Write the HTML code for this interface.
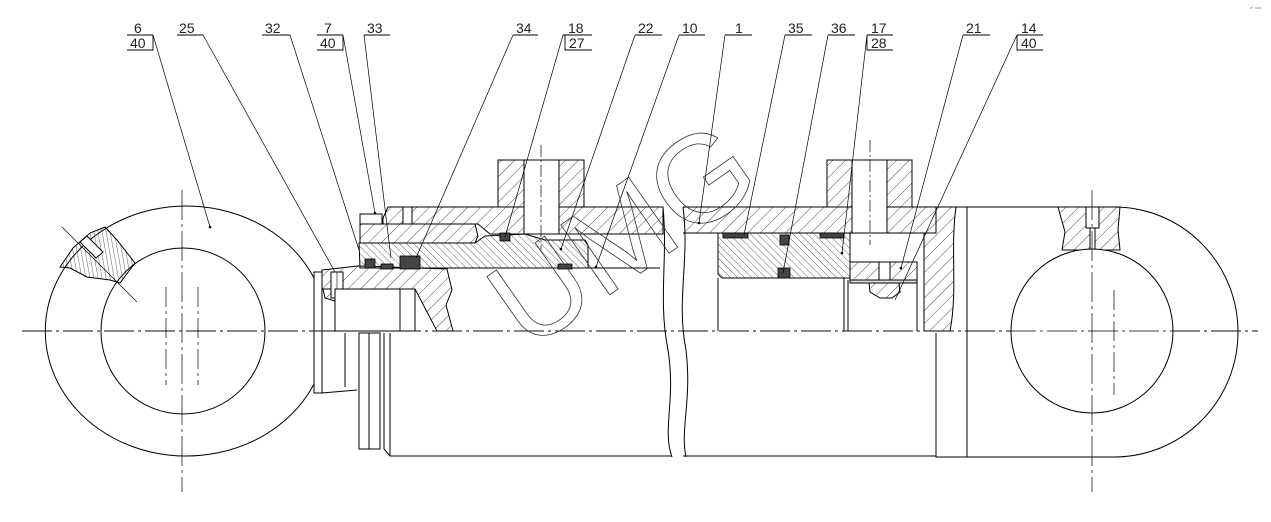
<!DOCTYPE html>
<html><head><meta charset="utf-8"><style>
html,body{margin:0;padding:0;background:#fff;}
svg{display:block;}
text{font-family:"Liberation Sans",sans-serif;}
</style></head><body>
<svg width="1271" height="522" viewBox="0 0 1271 522" xmlns="http://www.w3.org/2000/svg">
<defs>
<pattern id="hb" patternUnits="userSpaceOnUse" width="9" height="9" patternTransform="rotate(45)"><line x1="0" y1="0" x2="0" y2="9" stroke="#000" stroke-width="0.7"/></pattern>
<pattern id="hf" patternUnits="userSpaceOnUse" width="5" height="5" patternTransform="rotate(-45)"><line x1="0" y1="0" x2="0" y2="5" stroke="#000" stroke-width="0.6"/></pattern>
<pattern id="hv" patternUnits="userSpaceOnUse" width="4" height="4" patternTransform="rotate(-10)"><line x1="0" y1="0" x2="0" y2="4" stroke="#000" stroke-width="0.6"/></pattern>
</defs>
<g fill="none" stroke="#000" stroke-width="1">
<line x1="22" y1="331" x2="1258" y2="331" stroke-dasharray="30,4,3,4" stroke-width="0.8"/>
<path d="M314,278 A141,125 0 1 0 314,384"/>
<ellipse cx="183" cy="331" rx="82" ry="83"/>
<line x1="182" y1="190" x2="182" y2="492" stroke-dasharray="30,4,3,4" stroke-width="0.7"/>
<line x1="166" y1="287" x2="166" y2="385" stroke-dasharray="20,4,3,4" stroke-width="0.7"/>
<line x1="198" y1="287" x2="198" y2="385" stroke-dasharray="20,4,3,4" stroke-width="0.7"/>
<path d="M60,267 L73,248 L90,233 L105,227 L117,240 L135,263 L120,283 L110,280 L87,277 L70,268 Z" fill="url(#hv)"/>
<line x1="62" y1="227" x2="137" y2="302" stroke-width="0.7"/>
<path d="M80,242 L87,236 L103,252 L96,258 Z" fill="#fff"/>
<rect x="314" y="272" width="8" height="121"/>
<path d="M322,331 L322,393 M345,333 L345,387 M322,393 L357,390"/>
<path d="M322,270 L358,266 L447,269 L452,290 L446,305 L453,331 L437,331 L415,289 L322,289 Z" fill="url(#hb)"/>
<path d="M323,289 L347,289 L345,298 L335,301 L325,298 Z" fill="url(#hb)"/>
<rect x="331" y="272" width="12" height="26" fill="#fff"/>
<line x1="337" y1="272" x2="337" y2="300" stroke-width="0.6"/>
<rect x="335" y="289" width="80" height="42" fill="#fff"/>
<line x1="400" y1="289" x2="400" y2="331"/>
<rect x="359" y="333" width="21" height="116"/>
<line x1="369" y1="333" x2="369" y2="449"/>
<path d="M384,333 L384,449 L390,456 L672,456 M390,333 L390,456"/>
<path d="M383,218 L388,207 L663,207 L663,234 L490,234 L478,224 L383,224 Z" fill="url(#hb)"/>
<rect x="498" y="160" width="86" height="47" fill="url(#hb)"/>
<rect x="524" y="160" width="35" height="74" fill="#fff"/>
<line x1="541" y1="145" x2="541" y2="250" stroke-dasharray="12,3,2,3" stroke-width="0.7"/>
<rect x="360" y="214" width="22" height="10" fill="#fff"/>
<path d="M360,224 L475,224 L478,236 L475,243 L360,243 Z" fill="url(#hb)"/>
<rect x="403" y="207" width="9" height="17" fill="#fff"/>
<path d="M359,243 L475,243 L485,236 L525,234 L545,240 L585,240 L588,245 L588,268 L360,268 Z" fill="url(#hf)"/>
<line x1="588" y1="268" x2="660" y2="268"/>
<g fill="#444" stroke="#000" stroke-width="0.8">
<rect x="365" y="259" width="10" height="9"/>
<rect x="381" y="264" width="12" height="5"/>
<rect x="400" y="256" width="20" height="13"/>
<rect x="500" y="233" width="10" height="8"/>
<rect x="558" y="264" width="14" height="5"/>
</g>
<path d="M683,207 L936,207 M683,233 L936,233"/>
<rect x="683" y="207" width="253" height="26" fill="url(#hb)" stroke="none"/>
<path d="M663,207 C668,260 658,300 668,350 C676,400 662,430 672,457" />
<path d="M683,207 C690,260 676,300 686,350 C692,400 680,430 686,457" />
<path d="M683,456 L936,456"/>
<rect x="827" y="160" width="85" height="47" fill="url(#hb)"/>
<rect x="852" y="160" width="35" height="73" fill="#fff"/>
<line x1="870" y1="140" x2="870" y2="245" stroke-dasharray="12,3,2,3" stroke-width="0.7"/>
<path d="M718,233 L850,233 L850,278 L722,278 L718,274 Z" fill="url(#hf)"/>
<g fill="#444" stroke-width="0.8">
<rect x="723" y="233" width="25" height="5"/>
<rect x="820" y="233" width="24" height="5"/>
<rect x="780" y="235" width="9" height="10"/>
<rect x="778" y="268" width="12" height="10"/>
</g>
<line x1="718" y1="278" x2="718" y2="331"/>
<line x1="844" y1="278" x2="844" y2="331"/>
<line x1="848" y1="280" x2="848" y2="331"/>
<rect x="850" y="262" width="67" height="18" fill="url(#hb)"/>
<rect x="879" y="262" width="11" height="18" fill="#fff"/>
<rect x="850" y="280" width="67" height="3" fill="#ddd"/>
<path d="M869,283 L899,283 L900,292 L892,298 L880,298 L870,292 Z" fill="url(#hb)"/>
<line x1="917" y1="283" x2="917" y2="331"/>
<path d="M936,207 L956,207 C950,250 958,290 950,331 L924,331 L924,233 L936,233 Z" fill="url(#hb)"/>
<line x1="967" y1="207" x2="967" y2="457"/>
<path d="M956,207 L1114,207 A124,125 0 0 1 1114,457 L936,457 L936,333"/>
<path d="M1058,207 L1120,207 L1118,230 L1120,250 L1062,250 L1065,232 Z" fill="url(#hb)"/>
<rect x="1086" y="207" width="13" height="21" fill="#fff"/>
<rect x="1090" y="228" width="5" height="22" fill="#fff"/>
<ellipse cx="1092" cy="331" rx="81" ry="82" fill="#fff"/>
<line x1="1092" y1="190" x2="1092" y2="492" stroke-dasharray="30,4,3,4" stroke-width="0.7"/>
<line x1="1114" y1="290" x2="1114" y2="395" stroke-dasharray="20,4,3,4" stroke-width="0.7"/>
<line x1="22" y1="331" x2="1258" y2="331" stroke-dasharray="30,4,3,4" stroke-width="0.8"/>
<text x="528" y="352" transform="rotate(-35 528 352)" font-size="124" fill="none" stroke="#333" stroke-width="0.8">UMG</text>
<g stroke-width="0.7">
<path d="M153,35 L210,227 M203,35 L335,272 M290,35 L359,250 M343,35 L375,213 M364,35 L391,258"/>
<path d="M513,35 L416,258 M563,35 L505,237 M635,35 L561,249 M679,35 L596,267"/>
<path d="M725,35 L699,223 M785,35 L744,235 M828,35 L783,273 M867,35 L842,253 M963,35 L901,268 M1017,35 L895,300"/>
</g>
<g stroke-width="0.9">
<path d="M127,35 H153 M127,50 H153 V35 M177,35 H203 M262,35 H290 M317,35 H343 M317,50 H343 V35 M364,35 H390"/>
<path d="M513,35 H538 M563,35 H592 M565,35 V50 H592 M635,35 H662 M679,35 H705"/>
<path d="M725,35 H752 M785,35 H812 M828,35 H855 M867,35 H893 M867,35 V50 H893 M963,35 H990 M1017,35 H1043 M1017,35 V50 H1043"/>
</g>
</g>
<g fill="#222" font-size="14">
<text x="134" y="33">6</text><text x="130" y="48">40</text>
<text x="179" y="33">25</text>
<text x="265" y="33">32</text>
<text x="324" y="33">7</text><text x="320" y="48">40</text>
<text x="367" y="33">33</text>
<text x="516" y="33">34</text>
<text x="568" y="33">18</text><text x="569" y="48">27</text>
<text x="638" y="33">22</text>
<text x="682" y="33">10</text>
<text x="735" y="33">1</text>
<text x="788" y="33">35</text>
<text x="831" y="33">36</text>
<text x="871" y="33">17</text><text x="871" y="48">28</text>
<text x="966" y="33">21</text>
<text x="1021" y="33">14</text><text x="1021" y="48">40</text>
</g>
<g fill="#000">
<circle cx="210" cy="227" r="1.3"/><circle cx="375" cy="213" r="1.3"/><circle cx="561" cy="249" r="1.3"/><circle cx="596" cy="267" r="1.3"/><circle cx="699" cy="223" r="1.3"/><circle cx="842" cy="253" r="1.3"/><circle cx="901" cy="268" r="1.3"/>
</g>
<text x="1250" y="9" font-size="4" fill="#888">a² aaa</text>
</svg>
</body></html>
